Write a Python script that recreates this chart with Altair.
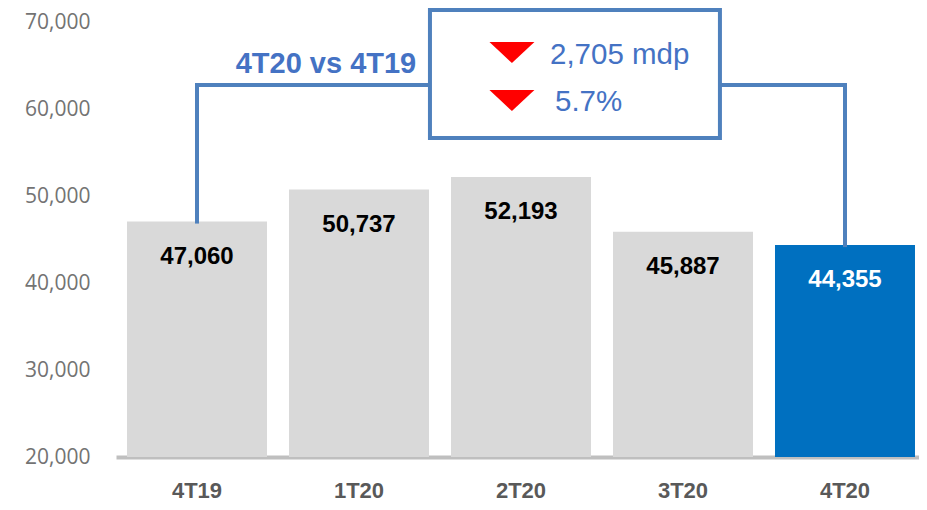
import altair as alt
import pandas as pd

# ---- data ----
quarters = ["4T19", "1T20", "2T20", "3T20", "4T20"]
values = [47060, 50737, 52193, 45887, 44355]
bar_colors = ["#d9d9d9", "#d9d9d9", "#d9d9d9", "#d9d9d9", "#0070c0"]
label_colors = ["#000000", "#000000", "#000000", "#000000", "#ffffff"]
y_ticks = [20000, 30000, 40000, 50000, 60000, 70000]

# annotation (x in band-step units from the plot's left edge: band i centre = i + 0.5; y in data units)
bracket_level = 62750
seg_x = [0.5, 0.5, 3.728, 4.5]
seg_x2 = [0.5, 1.938, 4.5, 4.5]
seg_y = [47060, bracket_level, bracket_level, 44355]
seg_y2 = [bracket_level, bracket_level, bracket_level, bracket_level]

box_x = [1.938]
box_x2 = [3.728]
box_y = [56667]
box_y2 = [71379]

title_text = ["4T20 vs 4T19"]
title_x = [1.296]
title_y = [65172]

tri_x = [2.444, 2.444]
tri_y = [66494, 60977]

change_text = ["2,705 mdp", "5.7%"]
change_x = [2.679, 2.710]
change_y = [66207, 60805]

# ---- tables ----
bars_df = pd.DataFrame({"q": quarters, "v": values, "c": bar_colors, "lc": label_colors,
                        "lab": [f"{v:,}" for v in values]})
seg_df = pd.DataFrame({"x": seg_x, "x2": seg_x2, "y": seg_y, "y2": seg_y2})
box_df = pd.DataFrame({"x": box_x, "x2": box_x2, "y": box_y, "y2": box_y2})
title_df = pd.DataFrame({"t": title_text, "x": title_x, "y": title_y})
tri_df = pd.DataFrame({"x": tri_x, "y": tri_y})
change_df = pd.DataFrame({"t": change_text, "x": change_x, "y": change_y})

W, H = 803, 435
STEP = 162.0
YDOM = [20000, 70000]
LINE = "#4f81bd"
TXT = "#4472c4"
NUM_FONT = "Liberation Sans"
NARROW = "Liberation Sans Narrow, Arial Narrow, Liberation Sans"

Y_AXIS = alt.Axis(title=None, grid=False, domain=False, ticks=False, format=",.0f",
                  values=y_ticks, labelFont="Open Sans", labelFontSize=21,
                  labelColor="#737373", labelPadding=26)
Y_SCALE = alt.Scale(domain=YDOM, nice=False, zero=False)


def yq(field):
    return alt.Y(field, type="quantitative", scale=Y_SCALE, axis=Y_AXIS)


def xq(field):
    return alt.X(field, type="quantitative",
                 scale=alt.Scale(domain=[0, W / STEP], nice=False, zero=False), axis=None)


xband = alt.X("q:N", sort=quarters, title=None,
              scale=alt.Scale(paddingInner=0.1358, paddingOuter=0.0463, align=0.733),
              axis=alt.Axis(labelAngle=0, ticks=False, domainColor="#bfbfbf", domainWidth=4,
                            labelFont=NARROW, labelFontWeight="bold", labelFontSize=22,
                            labelColor="#595959", labelPadding=33, labelBaseline="middle"))

bars = alt.Chart(bars_df).mark_bar().encode(
    x=xband,
    y=yq("v"),
    y2=alt.datum(20000),
    color=alt.Color("c:N", scale=None),
)

bar_labels = alt.Chart(bars_df).mark_text(font=NUM_FONT, fontWeight="bold", fontSize=24,
                                          baseline="middle", dy=35).encode(
    x=xband,
    y=yq("v"),
    text="lab:N",
    color=alt.Color("lc:N", scale=None),
)

segs = alt.Chart(seg_df).mark_rule(color=LINE, strokeWidth=4, strokeCap="square").encode(
    x=xq("x"), x2="x2", y=yq("y"), y2="y2")

box = alt.Chart(box_df).mark_rect(fill="white", stroke=LINE, strokeWidth=4).encode(
    x=xq("x"), x2="x2", y=yq("y"), y2="y2")

title = alt.Chart(title_df).mark_text(font=NUM_FONT, fontWeight="bold", fontSize=29, color=TXT,
                                      align="center", baseline="middle").encode(
    x=xq("x"), y=yq("y"), text="t:N")

tris = alt.Chart(tri_df).mark_point(shape="M-1,-0.47L1,-0.47L0,0.47Z", size=2025, filled=True,
                                    color="#ff0000", opacity=1, strokeWidth=0).encode(
    x=xq("x"), y=yq("y"))

changes = alt.Chart(change_df).mark_text(font=NUM_FONT, fontSize=29.5, color=TXT,
                                         align="left", baseline="middle").encode(
    x=xq("x"), y=yq("y"), text="t:N")

base_layer = alt.layer(bars, bar_labels)
annot_layer = alt.layer(segs, box, title, tris, changes)

chart = alt.layer(base_layer, annot_layer).resolve_scale(
    x="independent"
).resolve_axis(
    x="independent"
).properties(
    width=W, height=H,
    autosize=alt.AutoSizeParams(type="none"),
    padding={"left": 108, "top": 14, "right": 0, "bottom": 45},
).configure(background="white", view=alt.ViewConfig(stroke=None))

chart.save("out.html", embed_options={"renderer": "svg", "actions": False})
